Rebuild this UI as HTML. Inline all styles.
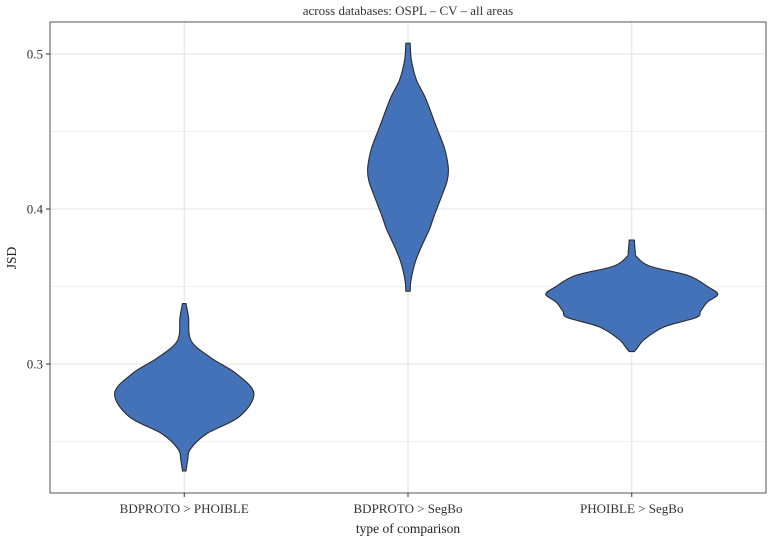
<!DOCTYPE html>
<html><head><meta charset="utf-8">
<style>
body{margin:0;background:#fff;}
svg{display:block;font-family:"Liberation Serif",serif;}
</style></head>
<body>
<svg id="chart" width="769" height="537" viewBox="0 0 769 537">
<text x="408" y="15" text-anchor="middle" font-size="13" fill="#333">across databases: OSPL – CV – all areas</text>
<g id="grid"></g>
<g id="violins"></g>
<rect x="50" y="22" width="716" height="471" fill="none" stroke="#555" stroke-width="1"/>
<g id="axes"></g>
<text x="408" y="533" text-anchor="middle" font-size="13.5" fill="#222">type of comparison</text>
<text transform="translate(16,258) rotate(-90)" text-anchor="middle" font-size="13.5" fill="#222">JSD</text>
</svg>
<script>
const categories = ["BDPROTO > PHOIBLE", "BDPROTO > SegBo", "PHOIBLE > SegBo"];
const yTicks = [0.3, 0.4, 0.5];
const yTickLabels = ["0.3", "0.4", "0.5"];
const yMinor = [0.25, 0.35, 0.45];
// violin profiles: JSD values and relative density at each
const v1Y = [0.339, 0.330, 0.315, 0.304, 0.294, 0.281, 0.266, 0.255, 0.245, 0.238, 0.231];
const v1D = [0.02, 0.05, 0.08, 0.31, 0.60, 0.81, 0.64, 0.26, 0.07, 0.04, 0.02];
const v2Y = [0.507, 0.496, 0.483, 0.472, 0.453, 0.440, 0.432, 0.425, 0.418, 0.408, 0.395, 0.387, 0.375, 0.365, 0.354, 0.347];
const v2D = [0.025, 0.04, 0.10, 0.20, 0.33, 0.42, 0.455, 0.47, 0.455, 0.39, 0.30, 0.25, 0.15, 0.08, 0.035, 0.025];
const v3Y = [0.380, 0.373, 0.369, 0.363, 0.357, 0.350, 0.345, 0.340, 0.334, 0.330, 0.324, 0.316, 0.310, 0.308];
const v3D = [0.03, 0.04, 0.06, 0.22, 0.66, 0.88, 1.0, 0.88, 0.80, 0.75, 0.38, 0.15, 0.06, 0.03];
const violinsY = [v1Y, v2Y, v3Y];
const violinsD = [v1D, v2D, v3D];

const NS = "http://www.w3.org/2000/svg";
const L = 50, R = 766, T = 22, B = 493;
const step = (R - L) / (categories.length - 1 + 1.2);
function xScale(i){ return L + step * (i + 0.6); }
function yScale(v){ return 209 + (0.4 - v) * 1550; }
const widthScale = 86;

const grid = document.getElementById("grid");
function line(g, x1, y1, x2, y2, stroke, sw){
  const l = document.createElementNS(NS, "line");
  l.setAttribute("x1", x1); l.setAttribute("y1", y1);
  l.setAttribute("x2", x2); l.setAttribute("y2", y2);
  l.setAttribute("stroke", stroke); l.setAttribute("stroke-width", sw);
  g.appendChild(l); return l;
}
yMinor.forEach(v => {
  const l = line(grid, L, yScale(v), R, yScale(v), "#f0f0f0", 1);
  
  
});
yTicks.forEach(v => {
  const l = line(grid, L, yScale(v), R, yScale(v), "#e3e3e3", 1);
  
  
});
categories.forEach((c, i) => {
  const l = line(grid, xScale(i), T, xScale(i), B, "#e3e3e3", 1);
  
  
});

const axes = document.getElementById("axes");
yTicks.forEach((v, i) => {
  const t = line(axes, L - 4, yScale(v), L, yScale(v), "#333", 1);
  
  
  const tx = document.createElementNS(NS, "text");
  tx.setAttribute("x", L - 7); tx.setAttribute("y", yScale(v) + 4.5);
  tx.setAttribute("text-anchor", "end"); tx.setAttribute("font-size", "13");
  tx.setAttribute("fill", "#333");
  tx.textContent = yTickLabels[i];
  
  
  axes.appendChild(tx);
});
categories.forEach((c, i) => {
  const t = line(axes, xScale(i), B, xScale(i), B + 4, "#333", 1);
  
  
  const tx = document.createElementNS(NS, "text");
  tx.setAttribute("x", xScale(i)); tx.setAttribute("y", B + 20);
  tx.setAttribute("text-anchor", "middle"); tx.setAttribute("font-size", "13");
  tx.setAttribute("fill", "#333");
  tx.textContent = c;
  
  
  axes.appendChild(tx);
});

function smoothPath(pts){
  let d = "M" + pts[0][0] + "," + pts[0][1];
  for (let i = 0; i < pts.length - 1; i++){
    const p0 = pts[Math.max(0, i - 1)], p1 = pts[i], p2 = pts[i + 1], p3 = pts[Math.min(pts.length - 1, i + 2)];
    const c1x = p1[0] + (p2[0] - p0[0]) / 6, c1y = p1[1] + (p2[1] - p0[1]) / 6;
    const c2x = p2[0] - (p3[0] - p1[0]) / 6, c2y = p2[1] - (p3[1] - p1[1]) / 6;
    d += " C" + c1x + "," + c1y + " " + c2x + "," + c2y + " " + p2[0] + "," + p2[1];
  }
  return d;
}
const vg = document.getElementById("violins");
categories.forEach((c, i) => {
  const ys = violinsY[i], ds = violinsD[i], cx = xScale(i);
  const right = ys.map((v, k) => [cx + ds[k] * widthScale, yScale(v)]);
  const left = ys.map((v, k) => [cx - ds[k] * widthScale, yScale(v)]).reverse();
  let d = smoothPath(right);
  const lp = smoothPath(left).replace(/^M/, " L");
  d += lp + " Z";
  const p = document.createElementNS(NS, "path");
  p.setAttribute("d", d);
  p.setAttribute("fill", "#4472b8");
  p.setAttribute("stroke", "#2b2b2b");
  p.setAttribute("stroke-width", "1.1");
  
  
  vg.appendChild(p);
});
</script>
</body></html>
